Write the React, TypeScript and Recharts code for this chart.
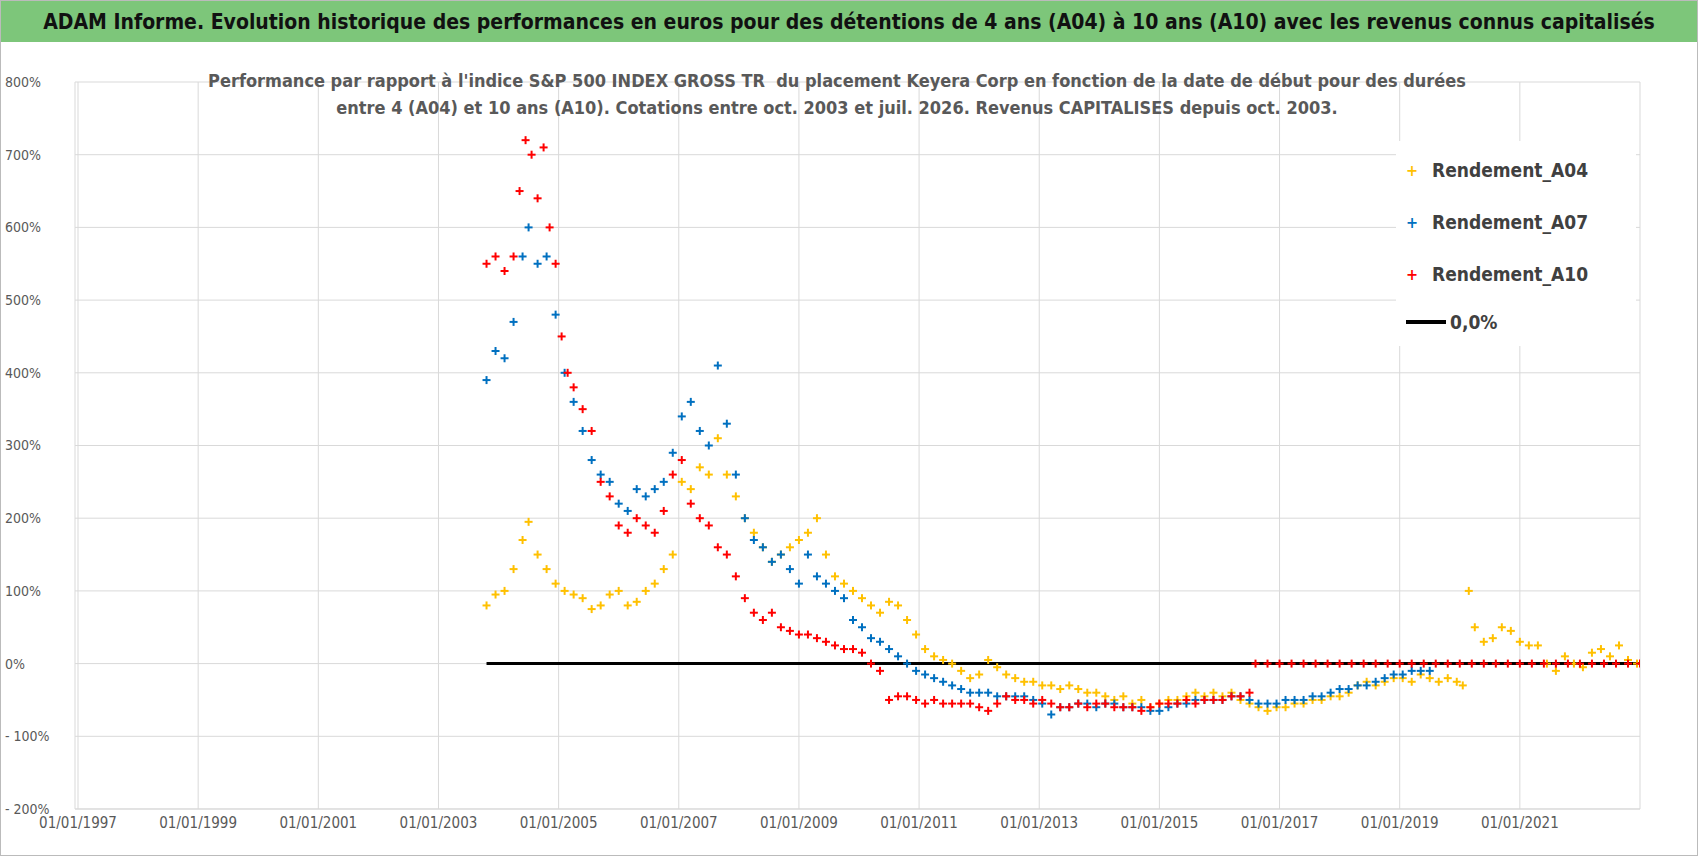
import { ScatterChart, Scatter, XAxis, YAxis, CartesianGrid, ReferenceLine } from 'recharts'

// dates as decimal years, values in %
const datesA04 = [2003.8, 2003.95, 2004.1, 2004.25, 2004.4, 2004.5, 2004.65, 2004.8, 2004.95, 2005.1, 2005.25, 2005.4, 2005.55, 2005.7, 2005.85, 2006.0, 2006.15, 2006.3, 2006.45, 2006.6, 2006.75, 2006.9, 2007.05, 2007.2, 2007.35, 2007.5, 2007.65, 2007.8, 2007.95, 2008.1, 2008.25, 2008.4, 2008.55, 2008.7, 2008.85, 2009.0, 2009.15, 2009.3, 2009.45, 2009.6, 2009.75, 2009.9, 2010.05, 2010.2, 2010.35, 2010.5, 2010.65, 2010.8, 2010.95, 2011.1, 2011.25, 2011.4, 2011.55, 2011.7, 2011.85, 2012.0, 2012.15, 2012.3, 2012.45, 2012.6, 2012.75, 2012.9, 2013.05, 2013.2, 2013.35, 2013.5, 2013.65, 2013.8, 2013.95, 2014.1, 2014.25, 2014.4, 2014.55, 2014.7, 2014.85, 2015.0, 2015.15, 2015.3, 2015.45, 2015.6, 2015.75, 2015.9, 2016.05, 2016.2, 2016.35, 2016.5, 2016.65, 2016.8, 2016.95, 2017.1, 2017.25, 2017.4, 2017.55, 2017.7, 2017.85, 2018.0, 2018.15, 2018.3, 2018.45, 2018.6, 2018.75, 2018.9, 2019.05, 2019.2, 2019.35, 2019.5, 2019.65, 2019.8, 2019.95, 2020.05, 2020.15, 2020.25, 2020.4, 2020.55, 2020.7, 2020.85, 2021.0, 2021.15, 2021.3, 2021.45, 2021.6, 2021.75, 2021.9, 2022.05, 2022.2, 2022.35, 2022.5, 2022.65, 2022.8, 2022.95]
const valuesA04 = [80, 95, 100, 130, 170, 195, 150, 130, 110, 100, 95, 90, 75, 80, 95, 100, 80, 85, 100, 110, 130, 150, 250, 240, 270, 260, 310, 260, 230, 200, 180, 160, 140, 150, 160, 170, 180, 200, 150, 120, 110, 100, 90, 80, 70, 85, 80, 60, 40, 20, 10, 5, 0, -10, -20, -15, 5, -5, -15, -20, -25, -25, -30, -30, -35, -30, -35, -40, -40, -45, -50, -45, -55, -50, -60, -55, -50, -50, -45, -40, -45, -40, -45, -40, -50, -55, -60, -65, -60, -60, -55, -55, -50, -50, -45, -45, -40, -30, -25, -30, -25, -20, -20, -25, -15, -20, -25, -20, -25, -30, 100, 50, 30, 35, 50, 45, 30, 25, 25, 0, -10, 10, 0, -5, 15, 20, 10, 25, 5, 0]

const datesA07 = [2003.8, 2003.95, 2004.1, 2004.25, 2004.4, 2004.5, 2004.65, 2004.8, 2004.95, 2005.1, 2005.25, 2005.4, 2005.55, 2005.7, 2005.85, 2006.0, 2006.15, 2006.3, 2006.45, 2006.6, 2006.75, 2006.9, 2007.05, 2007.2, 2007.35, 2007.5, 2007.65, 2007.8, 2007.95, 2008.1, 2008.25, 2008.4, 2008.55, 2008.7, 2008.85, 2009.0, 2009.15, 2009.3, 2009.45, 2009.6, 2009.75, 2009.9, 2010.05, 2010.2, 2010.35, 2010.5, 2010.65, 2010.8, 2010.95, 2011.1, 2011.25, 2011.4, 2011.55, 2011.7, 2011.85, 2012.0, 2012.15, 2012.3, 2012.45, 2012.6, 2012.75, 2012.9, 2013.05, 2013.2, 2013.35, 2013.5, 2013.65, 2013.8, 2013.95, 2014.1, 2014.25, 2014.4, 2014.55, 2014.7, 2014.85, 2015.0, 2015.15, 2015.3, 2015.45, 2015.6, 2015.75, 2015.9, 2016.05, 2016.2, 2016.35, 2016.5, 2016.65, 2016.8, 2016.95, 2017.1, 2017.25, 2017.4, 2017.55, 2017.7, 2017.85, 2018.0, 2018.15, 2018.3, 2018.45, 2018.6, 2018.75, 2018.9, 2019.05, 2019.2, 2019.35, 2019.5]
const valuesA07 = [390, 430, 420, 470, 560, 600, 550, 560, 480, 400, 360, 320, 280, 260, 250, 220, 210, 240, 230, 240, 250, 290, 340, 360, 320, 300, 410, 330, 260, 200, 170, 160, 140, 150, 130, 110, 150, 120, 110, 100, 90, 60, 50, 35, 30, 20, 10, 0, -10, -15, -20, -25, -30, -35, -40, -40, -40, -45, -45, -45, -45, -50, -55, -70, -60, -60, -55, -55, -60, -55, -55, -60, -60, -60, -65, -65, -60, -55, -55, -50, -50, -50, -50, -45, -45, -50, -55, -55, -55, -50, -50, -50, -45, -45, -40, -35, -35, -30, -30, -25, -20, -15, -15, -10, -10, -10]

const datesA10 = [2003.8, 2003.95, 2004.1, 2004.25, 2004.35, 2004.45, 2004.55, 2004.65, 2004.75, 2004.85, 2004.95, 2005.05, 2005.15, 2005.25, 2005.4, 2005.55, 2005.7, 2005.85, 2006.0, 2006.15, 2006.3, 2006.45, 2006.6, 2006.75, 2006.9, 2007.05, 2007.2, 2007.35, 2007.5, 2007.65, 2007.8, 2007.95, 2008.1, 2008.25, 2008.4, 2008.55, 2008.7, 2008.85, 2009.0, 2009.15, 2009.3, 2009.45, 2009.6, 2009.75, 2009.9, 2010.05, 2010.2, 2010.35, 2010.5, 2010.65, 2010.8, 2010.95, 2011.1, 2011.25, 2011.4, 2011.55, 2011.7, 2011.85, 2012.0, 2012.15, 2012.3, 2012.45, 2012.6, 2012.75, 2012.9, 2013.05, 2013.2, 2013.35, 2013.5, 2013.65, 2013.8, 2013.95, 2014.1, 2014.25, 2014.4, 2014.55, 2014.7, 2014.85, 2015.0, 2015.15, 2015.3, 2015.45, 2015.6, 2015.75, 2015.9, 2016.05, 2016.2, 2016.35, 2016.5]
const valuesA10 = [550, 560, 540, 560, 650, 720, 700, 640, 710, 600, 550, 450, 400, 380, 350, 320, 250, 230, 190, 180, 200, 190, 180, 210, 260, 280, 220, 200, 190, 160, 150, 120, 90, 70, 60, 70, 50, 45, 40, 40, 35, 30, 25, 20, 20, 15, 0, -10, -50, -45, -45, -50, -55, -50, -55, -55, -55, -55, -60, -65, -55, -45, -50, -50, -55, -50, -55, -60, -60, -55, -60, -55, -55, -60, -60, -60, -65, -60, -55, -55, -55, -50, -55, -50, -50, -50, -45, -45, -40]

const datesA10Zero = [2016.6, 2016.8, 2017.0, 2017.2, 2017.4, 2017.6, 2017.8, 2018.0, 2018.2, 2018.4, 2018.6, 2018.8, 2019.0, 2019.2, 2019.4, 2019.6, 2019.8, 2020.0, 2020.2, 2020.4, 2020.6, 2020.8, 2021.0, 2021.2, 2021.4, 2021.6, 2021.8, 2022.0, 2022.2, 2022.4, 2022.6, 2022.8, 2023.0]

const xTicks = [1997, 1999, 2001, 2003, 2005, 2007, 2009, 2011, 2013, 2015, 2017, 2019, 2021]
const yTicks = [-200, -100, 0, 100, 200, 300, 400, 500, 600, 700, 800]

const A04 = datesA04.map((x, i) => ({ x, y: valuesA04[i] }))
const A07 = datesA07.map((x, i) => ({ x, y: valuesA07[i] }))
const A10 = datesA10.map((x, i) => ({ x, y: valuesA10[i] })).concat(datesA10Zero.map((x) => ({ x, y: 0 })))

const font = '"DejaVu Sans Condensed", "Liberation Sans", sans-serif'

const plus = (color: string) => (props: any) => {
  const { cx, cy } = props
  if (cx == null || cy == null) return <g />
  return (
    <g stroke={color} strokeWidth={2}>
      <line x1={cx - 4} y1={cy} x2={cx + 4} y2={cy} />
      <line x1={cx} y1={cy - 4} x2={cx} y2={cy + 4} />
    </g>
  )
}

const legend = [
  { name: 'Rendement_A04', color: '#ffc000' },
  { name: 'Rendement_A07', color: '#0070c0' },
  { name: 'Rendement_A10', color: '#ff0000' },
]

export default function App() {
  return (
    <div style={{ position: 'absolute', left: 0, top: 0, width: 1698, height: 856, background: '#fff', fontFamily: font, border: '1px solid #bbb', boxSizing: 'border-box' }}>
      <div style={{ height: 41, background: '#7dc67a', display: 'flex', alignItems: 'center', justifyContent: 'center', fontWeight: 'bold', fontSize: 21, color: '#111' }}>
        ADAM Informe. Evolution historique des performances en euros pour des détentions de 4 ans (A04) à 10 ans (A10) avec les revenus connus capitalisés
      </div>
      <ScatterChart width={1696} height={813} margin={{ top: 40, right: 57, bottom: 6, left: 0 }}>
        <CartesianGrid stroke='#d9d9d9' />
        <XAxis type='number' dataKey='x' domain={[1996.95, 2023.0]} ticks={xTicks} allowDataOverflow
          tickFormatter={(v) => `01/01/${v}`} tick={{ fill: '#595959', fontSize: 15, fontFamily: font }}
          axisLine={{ stroke: '#d9d9d9' }} tickLine={false} height={40} />
        <YAxis type='number' dataKey='y' domain={[-200, 800]} ticks={yTicks} allowDataOverflow
          tickFormatter={(v) => (v < 0 ? `- ${-v}%` : `${v}%`)} tick={{ fill: '#595959', fontSize: 14, fontFamily: font, textAnchor: 'start', dx: -62 }}
          axisLine={false} tickLine={false} width={74} />
        <ReferenceLine segment={[{ x: 2003.8, y: 0 }, { x: 2023.0, y: 0 }]} stroke='#000' strokeWidth={3} />
        <Scatter data={A04} shape={plus('#ffc000')} isAnimationActive={false} />
        <Scatter data={A07} shape={plus('#0070c0')} isAnimationActive={false} />
        <Scatter data={A10} shape={plus('#ff0000')} isAnimationActive={false} />
      </ScatterChart>
      <div style={{ position: 'absolute', top: 66, left: 86, width: 1500, textAlign: 'center', fontWeight: 'bold', fontSize: 18, color: '#595959', lineHeight: '27px' }}>
        Performance par rapport à l'indice S&amp;P 500 INDEX GROSS TR&nbsp; du placement Keyera Corp en fonction de la date de début pour des durées<br />
        entre 4 (A04) et 10 ans (A10). Cotations entre oct. 2003 et juil. 2026. Revenus CAPITALISES depuis oct. 2003.
      </div>
      <div style={{ position: 'absolute', left: 1395, top: 140, width: 240, height: 205, background: '#fff', fontSize: 19, fontWeight: 'bold', color: '#404040' }}>
        {legend.map((l, i) => (
          <div key={l.name} style={{ position: 'absolute', top: 18 + i * 52, left: 10, display: 'flex', alignItems: 'center' }}>
            <span style={{ color: l.color, fontWeight: 'bold', width: 26, fontSize: 16 }}>+</span>
            <span>{l.name}</span>
          </div>
        ))}
        <div style={{ position: 'absolute', top: 170, left: 10, display: 'flex', alignItems: 'center' }}>
          <span style={{ display: 'inline-block', width: 40, height: 4, background: '#000', marginRight: 4 }} />
          <span>0,0%</span>
        </div>
      </div>
    </div>
  )
}
